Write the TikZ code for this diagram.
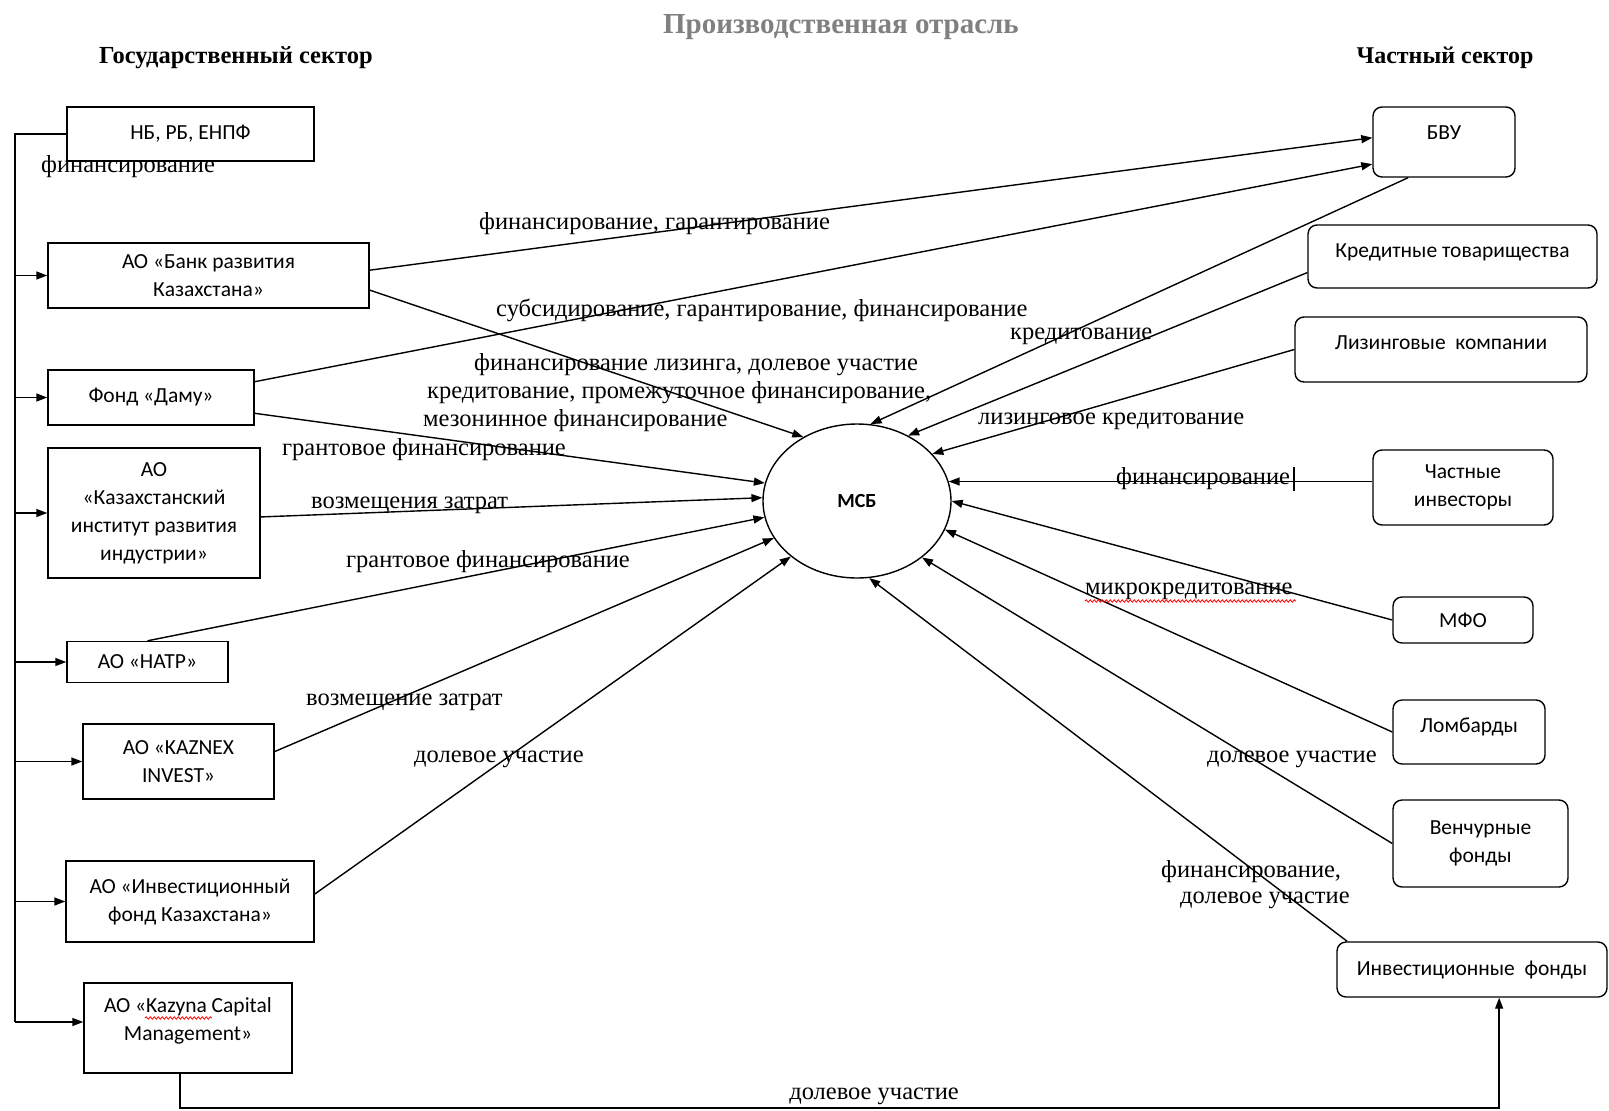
\documentclass[tikz,border=0pt]{standalone}
\usepackage{fontspec}
\setmainfont{Liberation Serif}
\newfontfamily\boxfont{Carlito}
\usetikzlibrary{arrows.meta,calc,shapes.geometric,decorations.pathmorphing}
\begin{document}
\begin{tikzpicture}[x=1pt,y=-1pt,
  box/.style={draw,line width=1.4pt,inner sep=0pt,align=center,font=\boxfont\fontsize{21.5}{28}\selectfont},
  rbox/.style={box,rounded corners=9pt},
  btxt/.style={inner sep=0pt,align=center,font=\boxfont\fontsize{21.5}{28}\selectfont},
  lbl/.style={anchor=west,inner sep=0pt,font=\fontsize{24.5}{28}\selectfont},
  head/.style={inner sep=0pt,font=\bfseries\fontsize{24.5}{28}\selectfont},
  arr/.style={line width=1.4pt,-{Triangle[length=11pt,width=8pt]}},
  ln/.style={line width=1.4pt},
  wavy/.style={red,line width=0.8pt,decorate,decoration={snake,amplitude=1.2pt,segment length=4pt}}
]
\useasboundingbox (0,0) rectangle (1609,1111);
% headings
\node[head,text=gray,font=\bfseries\fontsize{29}{32}\selectfont] (title) at (841,27) {Производственная отрасль};
\node[head] (gov) at (236,58) {Государственный сектор};
\node[head,font=\bfseries\fontsize{24}{28}\selectfont] (priv) at (1445,58) {Частный сектор};
% left boxes
\node[box,minimum width=247pt,minimum height=54pt] (nb) at (190.5,134) {НБ, РБ, ЕНПФ};
\node[box,minimum width=321pt,minimum height=65pt] (bank) at (208.5,275.5) {АО «Банк развития\\Казахстана»};
\node[box,minimum width=206pt,minimum height=55pt] (damu) at (151,397.5) {Фонд «Даму»};
\node[box,minimum width=212pt,minimum height=130pt] (kidi) at (154,513) {АО\\«Казахстанский\\институт развития\\индустрии»};
\node[box,minimum width=161pt,minimum height=41pt] (natr) at (147.5,662) {АО «НАТР»};
\node[box,minimum width=191pt,minimum height=75pt] (kaznex) at (178.5,761.5) {АО «KAZNEX\\INVEST»};
\node[box,minimum width=248pt,minimum height=81pt] (iff) at (190,901.5) {АО «Инвестиционный\\фонд Казахстана»};
\node[box,minimum width=208pt,minimum height=90pt] (kcm) at (188,1028) {};
\node[btxt] (kcmt) at (188,1021) {АО «Kazyna Capital\\Management»};
% right boxes
\node[rbox,minimum width=142pt,minimum height=70pt] (bvu) at (1444,142) {};
\node[btxt] (bvut) at (1444,133) {БВУ};
\node[rbox,minimum width=289pt,minimum height=63pt] (kt) at (1452.5,256.5) {};
\node[btxt] (ktt) at (1452.5,252) {Кредитные товарищества};
\node[rbox,minimum width=292pt,minimum height=65pt] (lz) at (1441,349.5) {};
\node[btxt] (lzt) at (1441,343) {Лизинговые\ \ компании};
\node[rbox,minimum width=180pt,minimum height=75pt] (ci) at (1463,487.5) {Частные\\инвесторы};
\node[rbox,minimum width=140pt,minimum height=46pt] (mfo) at (1463,620) {МФО};
\node[rbox,minimum width=152pt,minimum height=64pt] (lb) at (1469,732) {};
\node[btxt] (lbt) at (1469,727) {Ломбарды};
\node[rbox,minimum width=175pt,minimum height=87pt] (vf) at (1480.5,843.5) {Венчурные\\фонды};
\node[rbox,minimum width=270pt,minimum height=55pt] (if) at (1472,969.5) {Инвестиционные\ \ фонды};
% center
\node[draw,ellipse,line width=1.4pt,minimum width=188pt,minimum height=154pt,inner sep=0pt,font=\boxfont\bfseries\fontsize{20}{24}\selectfont] (msb) at (857,501) {МСБ};
% bus
\coordinate (bustop) at (15,134);
\coordinate (busbot) at (15,1022);
\draw[ln] (nb.west) -- (bustop) -- (busbot);
\draw[arr] (bustop |- bank.west) -- (bank.west);
\draw[arr] (bustop |- damu.west) -- (damu.west);
\draw[arr] (bustop |- kidi.west) -- (kidi.west);
\draw[arr] (bustop |- natr.west) -- (natr.west);
\draw[arr] (bustop |- kaznex.west) -- (kaznex.west);
\draw[arr] (bustop |- iff.west) -- (iff.west);
\draw[arr] (busbot) -- (busbot -| kcm.west);
% left connectors
\draw[arr] ($(bank.north east)!0.42!(bank.south east)$) -- ($(bvu.north west)!0.44!(bvu.south west)$);
\draw[arr] ($(damu.north east)!0.22!(damu.south east)$) -- ($(bvu.north west)!0.81!(bvu.south west)$);
\draw[arr] ($(bank.north east)!0.72!(bank.south east)$) -- (msb.130);
\draw[arr] ($(damu.north east)!0.78!(damu.south east)$) -- (msb.169);
\draw[arr] ($(kidi.north east)!0.53!(kidi.south east)$) -- (msb.178);
\draw[arr] (natr.north) -- (msb.190);
\draw[arr] ($(kaznex.north east)!0.37!(kaznex.south east)$) -- (msb.204);
\draw[arr] ($(iff.north east)!0.41!(iff.south east)$) -- (msb.220);
% bottom
\coordinate (bot) at (0,1108);
\coordinate (ks) at ([xshift=-8pt]kcm.south);
\coordinate (ie) at ($(if.south west)!0.6!(if.south east)$);
\draw[arr] (ks) -- (ks |- bot) -- (ie |- bot) -- (ie);
% right connectors
\draw[arr] ($(bvu.south west)!0.25!(bvu.south east)$) -- (msb.80);
\draw[arr] ($(kt.north west)!0.75!(kt.south west)$) -- (msb.52);
\draw[arr] (lz.west) -- (msb.32);
\draw[arr] (ci.west |- msb.12) -- (msb.12);
\draw[arr] (mfo.west) -- (msb.0);
\draw[arr] (lb.west) -- (msb.-18);
\draw[arr] (vf.west) -- (msb.-41);
\draw[arr] ($(if.north west)!0.04!(if.north east)$) -- (msb.-81);
% labels
\node[lbl] (l1) at (41,167) {финансирование};
\node[lbl] (l2) at (479,224) {финансирование, гарантирование};
\node[lbl] (l3) at (496,310) {субсидирование, гарантирование, финансирование};
\node[lbl] (l4) at (474,365) {финансирование лизинга, долевое участие};
\node[lbl] (l5) at (427,393) {кредитование, промежуточное финансирование,};
\node[lbl] (l6) at (423,421) {мезонинное финансирование};
\node[lbl] (l7) at (282,450) {грантовое финансирование};
\node[lbl] (l8) at (311,505) {возмещения затрат};
\node[lbl] (l9) at (346,562) {грантовое финансирование};
\node[lbl] (l10) at (306,702) {возмещение затрат};
\node[lbl] (l11) at (414,759) {долевое участие};
\node[lbl,anchor=center] (l12) at (874,1096) {долевое участие};
\node[lbl] (r1) at (1010,336) {кредитование};
\node[lbl] (r2) at (978,421) {лизинговое кредитование};
\node[lbl] (r3) at (1116,479) {финансирование};
\node[lbl] (r4) at (1085,591) {микрокредитование};
\node[lbl] (r5) at (1207,759) {долевое участие};
\node[lbl] (r6) at (1161,872) {финансирование,};
\node[lbl] (r7) at (1180,900) {долевое участие};
% artifacts
\draw[line width=2.5pt] (1294,467) -- (1294,491);
\draw[wavy] (1085,601) -- (1296,601);
\draw[wavy] (145,1018) -- (212,1018);
\end{tikzpicture}
\end{document}
